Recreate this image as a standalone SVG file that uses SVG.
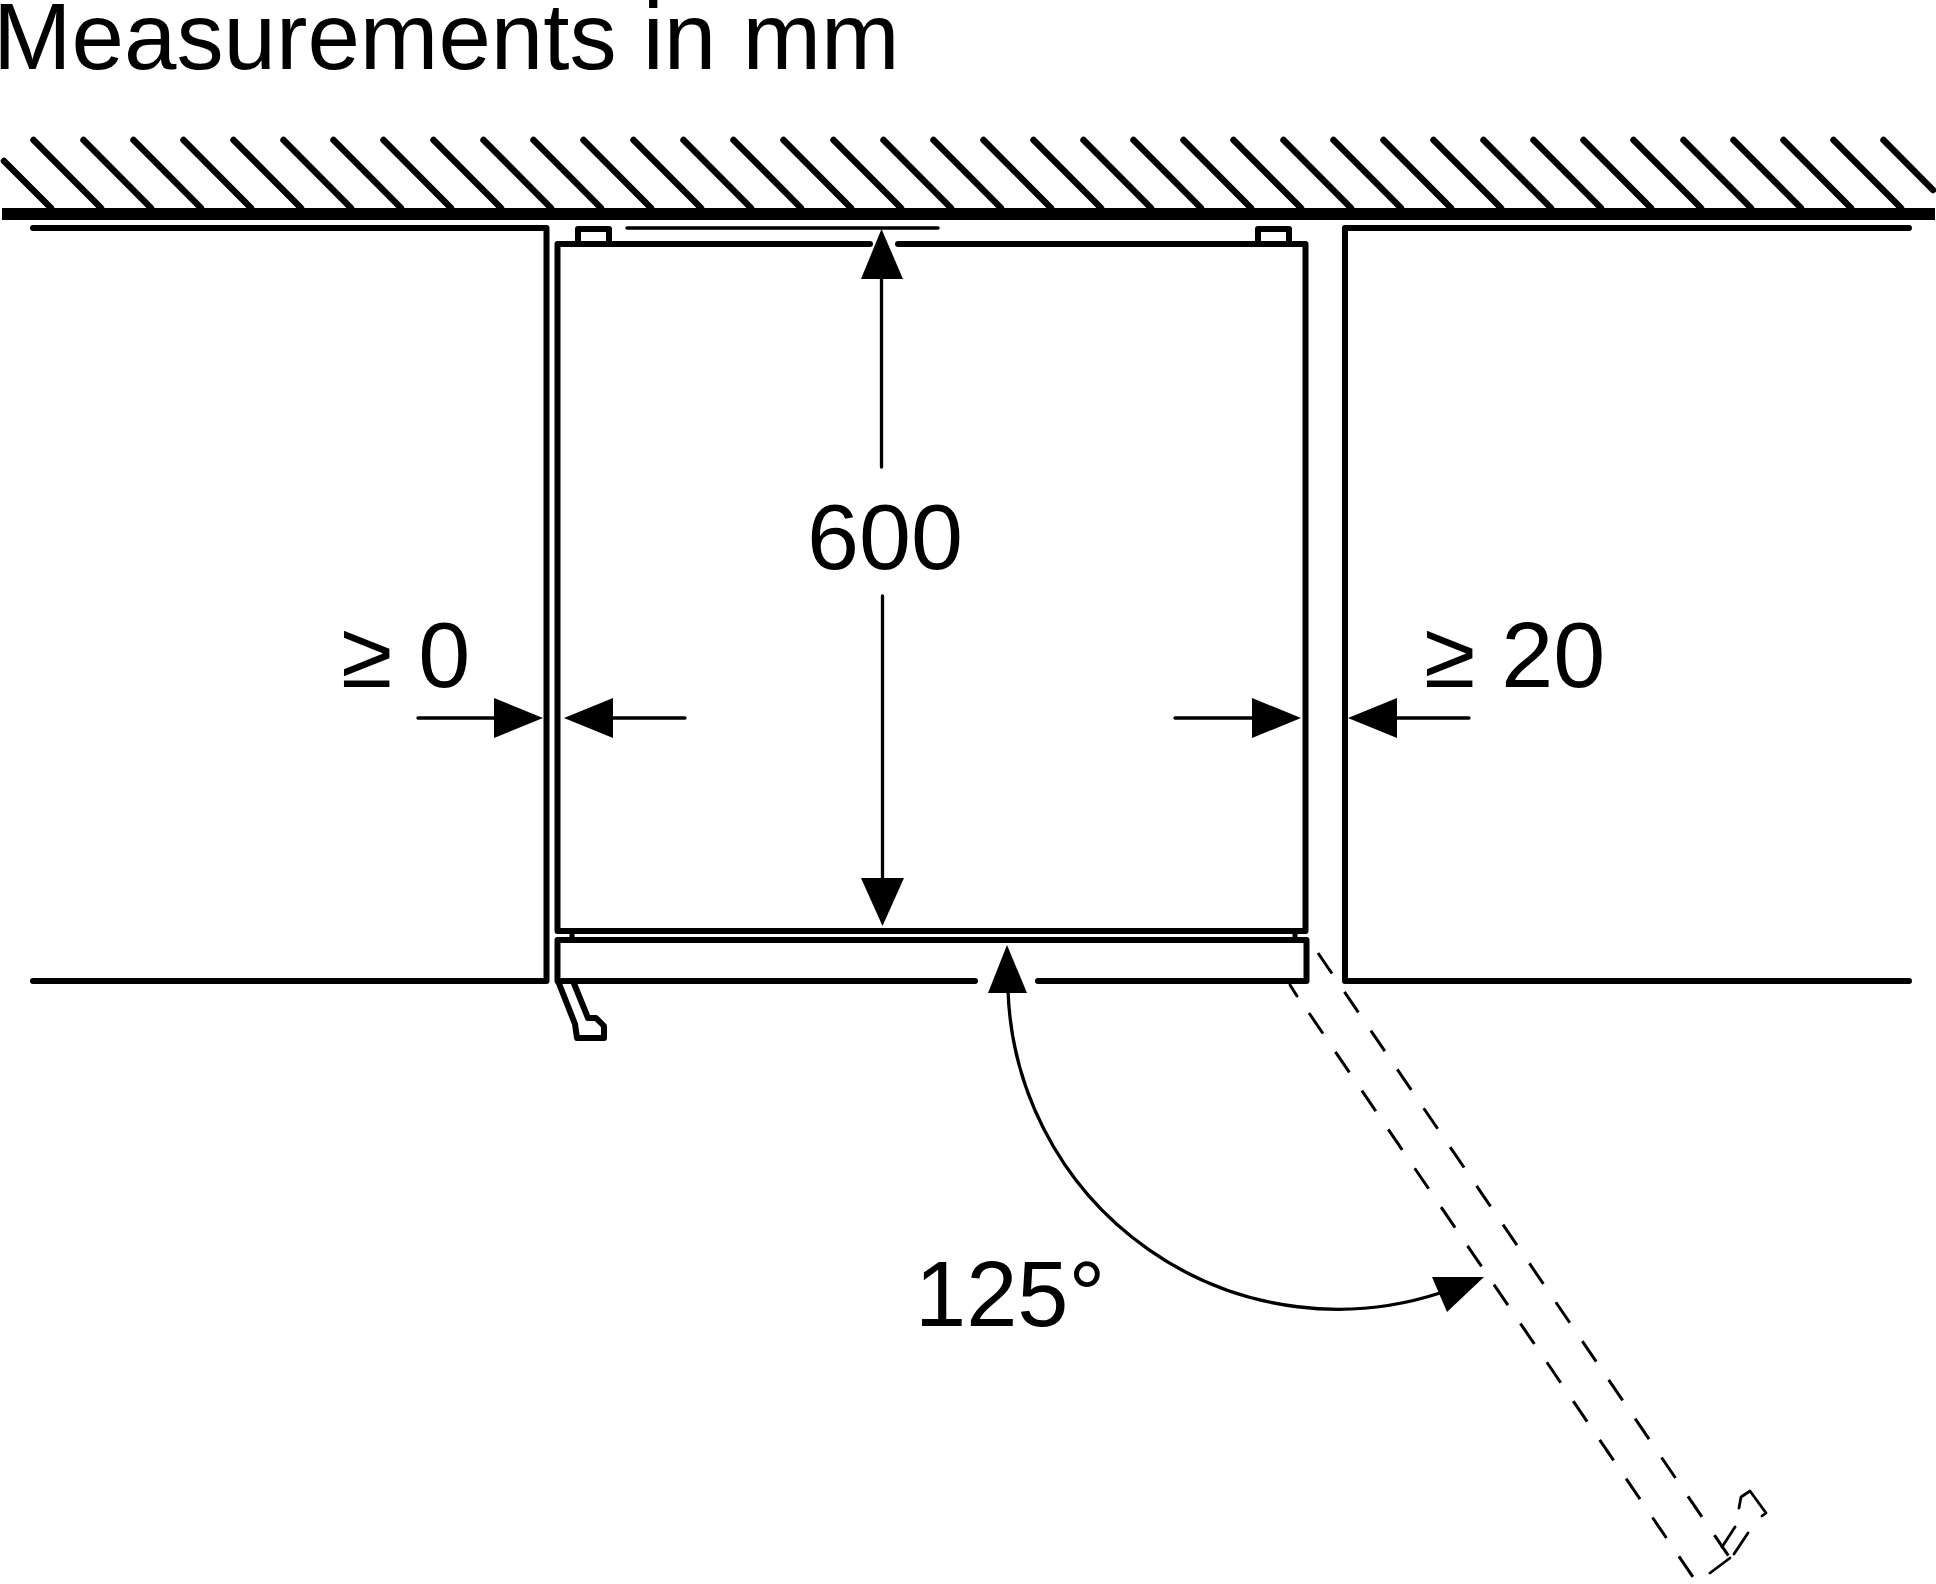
<svg xmlns="http://www.w3.org/2000/svg" width="1936" height="1584" viewBox="0 0 1936 1584">
<style>
.t{font-family:"Liberation Sans",Arial,sans-serif;font-size:93.5px;fill:#000}
.w{fill:none;stroke:#000;stroke-width:6;stroke-linecap:round;stroke-linejoin:round}
.hatch{stroke-width:6.5}
.d{fill:none;stroke:#000;stroke-width:3.3;stroke-linecap:round}
.a{fill:#000;stroke:none}
.h{fill:none;stroke:#000;stroke-width:2.8;stroke-linecap:round;stroke-linejoin:round}
.dash{stroke-dasharray:24.8 22.15;stroke-linecap:butt}
</style>
<rect width="1936" height="1584" fill="#fff"/>
<text id="title" class="t" x="-7" y="68.5" style="font-size:94.3px">Measurements in mm</text>
<g id="wall">
<rect x="2" y="208" width="1933" height="12" fill="#000"/>
<path class="w hatch" d="M4 161L51 208M33.5 140L101 208M83.5 140L151 208M133.5 140L201 208M183.5 140L251 208M233.5 140L301 208M283.5 140L351 208M333.5 140L401 208M383.5 140L451 208M433.5 140L501 208M483.5 140L551 208M533.5 140L601 208M583.5 140L651 208M633.5 140L701 208M683.5 140L751 208M733.5 140L801 208M783.5 140L851 208M833.5 140L901 208M883.5 140L951 208M933.5 140L1001 208M983.5 140L1051 208M1033.5 140L1101 208M1083.5 140L1151 208M1133.5 140L1201 208M1183.5 140L1251 208M1233.5 140L1301 208M1283.5 140L1351 208M1333.5 140L1401 208M1383.5 140L1451 208M1433.5 140L1501 208M1483.5 140L1551 208M1533.5 140L1601 208M1583.5 140L1651 208M1633.5 140L1701 208M1683.5 140L1751 208M1733.5 140L1801 208M1783.5 140L1851 208M1833.5 140L1901 208M1883.5 140L1933 190"/>
</g>
<g id="cabinet-left"><path class="w" d="M33 228H546.5V981H33"/></g>
<g id="cabinet-right"><path class="w" d="M1909 228H1345V981H1909"/></g>
<g id="appliance">
<path class="w" d="M870 244H557.5V931H1305.5V244H898"/>
<path class="w" d="M578 244V229H609V244M1258 244V229H1289V244"/>
<path class="d" d="M627 228H938" style="stroke-width:3.5"/>
<path class="d" d="M572 931V940M1295 931V940" style="stroke-width:5"/>
</g>
<g id="door">
<path class="w" d="M975 981H557.5V940H1306.5V981H1038"/>
</g>
<g id="handle">
<path class="w" d="M558 981L575 1024L577 1038H604V1026L596 1018H588L573 981"/>
</g>
<g id="open-door">
<path class="d dash" style="stroke-width:3" d="M1318 953L1730 1558"/>
<path class="d" style="stroke-width:3" d="M1290 985L1297 996"/>
<path class="d dash" style="stroke-width:3" d="M1309 1013L1693 1577"/>
<path class="h" d="M1730 1558L1710 1573M1735 1527L1722 1547M1748 1533L1734 1554M1739 1508L1741 1497L1750 1491L1766 1513L1762 1516"/>
</g>
<g id="connectors">
<path class="d" d="M881.5 279V467M882.5 596V880"/>
<polygon class="a" points="881.5,229 903,279 861,279"/>
<polygon class="a" points="882.5,926 861,878 904,878"/>
<path class="d" d="M418 718H495M613 718H685M1175 718H1252M1397 718H1469"/>
<polygon class="a" points="543,718 494,698 494,738"/>
<polygon class="a" points="564,718 613,698 613,738"/>
<polygon class="a" points="1301,718 1252,698 1252,738"/>
<polygon class="a" points="1348,718 1397,698 1397,738"/>
<path class="d" d="M1008 990A330 330 0 0 0 1440 1293"/>
<polygon class="a" points="1007,945 1027,993 988,993"/>
<polygon class="a" points="1484,1277 1432,1277 1447,1312"/>
</g>
<text class="t" x="807" y="569">600</text>
<text class="t" x="341" y="687">≥ 0</text>
<text class="t" x="1424" y="687">≥ 20</text>
<text class="t" x="915" y="1326" style="font-size:92px">125°</text>
</svg>
